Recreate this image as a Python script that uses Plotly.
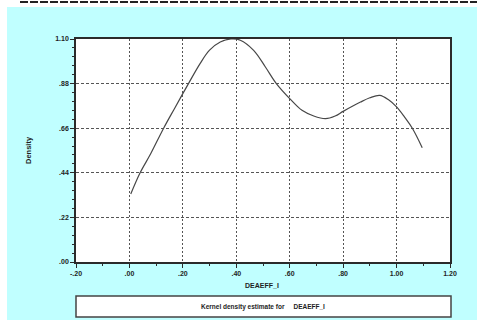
import plotly.graph_objects as go

# Kernel density estimate of DEAEFF_I
deaeff = [0.005, 0.04, 0.08, 0.128, 0.17, 0.221, 0.265, 0.30, 0.34, 0.38,
          0.415, 0.465, 0.509, 0.55, 0.60, 0.646, 0.69, 0.734, 0.77, 0.80,
          0.865, 0.90, 0.937, 0.97, 1.00, 1.03, 1.059, 1.096]
density = [0.335, 0.44, 0.535, 0.66, 0.76, 0.88, 0.98, 1.045, 1.085, 1.10,
           1.094, 1.044, 0.962, 0.88, 0.806, 0.748, 0.72, 0.707, 0.72, 0.743,
           0.789, 0.81, 0.822, 0.80, 0.765, 0.715, 0.66, 0.564]

x_tickvals = [-0.2, 0.0, 0.2, 0.4, 0.6, 0.8, 1.0, 1.2]
x_ticktext = ["-.20", ".00", ".20", ".40", ".60", ".80", "1.00", "1.20"]
y_tickvals = [0.0, 0.22, 0.44, 0.66, 0.88, 1.10]
y_ticktext = [".00", ".22", ".44", ".66", ".88", "1.10"]

W, H = 477, 320
L, R, T, B = 76, 27, 39, 58
PW, PH = W - L - R, H - T - B


def px(x):
    return (x - L) / PW


def py(y):
    return (H - B - y) / PH


def bold(s):
    return f"<b>{s}</b>"


FONT = "Liberation Sans, Arial, sans-serif"
CYAN = "#c0ffff"
INK = "#1e1e1e"

fig = go.Figure()
fig.add_trace(go.Scatter(
    x=deaeff, y=density, mode="lines",
    line=dict(color="#474747", width=1.2, shape="spline", smoothing=1.0),
    hoverinfo="skip", showlegend=False, cliponaxis=True,
))

axis_common = dict(
    showline=True, linecolor="#2b2b2b", linewidth=1.5, mirror=True,
    ticks="outside", ticklen=4, tickwidth=1, tickcolor="#2b2b2b",
    showgrid=True, gridcolor="#555555", gridwidth=1,
    zeroline=False,
    tickfont=dict(family=FONT, size=7, color=INK),
)

fig.update_xaxes(
    range=[-0.2, 1.2], tickmode="array", tickvals=x_tickvals,
    ticktext=[bold(t) for t in x_ticktext],
    griddash="2px,2px",
    minor=dict(dtick=0.1, tick0=0, ticks="outside", ticklen=2, tickcolor="#2b2b2b", showgrid=False),
    **axis_common,
)
fig.update_yaxes(
    range=[0, 1.1], tickmode="array", tickvals=y_tickvals,
    ticktext=[bold(t) for t in y_ticktext],
    griddash="3px,2px",
    minor=dict(dtick=0.044, tick0=0, ticks="outside", ticklen=2, tickcolor="#2b2b2b", showgrid=False),
    **axis_common,
)

shapes = [
    # cyan panel behind the chart
    dict(type="rect", xref="paper", yref="paper", layer="below",
         x0=px(7), x1=px(W + 5), y0=py(H + 5), y1=py(7),
         fillcolor=CYAN, line=dict(width=0)),
    # white plotting area
    dict(type="rect", xref="paper", yref="paper", layer="below",
         x0=0, x1=1, y0=0, y1=1, fillcolor="white", line=dict(width=0)),
    # dashed rule across the top
    dict(type="line", xref="paper", yref="paper",
         x0=px(20), x1=px(W), y0=py(2), y1=py(2),
         line=dict(color="#222222", width=2, dash="8px,2px")),
    # caption box
    dict(type="rect", xref="paper", yref="paper",
         x0=px(76), x1=px(451), y0=py(317), y1=py(296),
         fillcolor="white", line=dict(color="#444444", width=1.5)),
]

annotations = [
    dict(text=bold("Density"), textangle=-90, x=px(28), y=py(150), xref="paper", yref="paper",
         showarrow=False, font=dict(family=FONT, size=7.5, color=INK),
         xanchor="center", yanchor="middle"),
    dict(text=bold("DEAEFF_I"), x=px(262), y=py(285), xref="paper", yref="paper",
         showarrow=False, font=dict(family=FONT, size=7, color=INK),
         xanchor="center", yanchor="middle"),
    dict(text=bold("Kernel density estimate for&nbsp;&nbsp;&nbsp;&nbsp; DEAEFF_I"),
         x=px(263), y=py(306.5), xref="paper", yref="paper",
         showarrow=False, font=dict(family=FONT, size=6.5, color=INK),
         xanchor="center", yanchor="middle"),
]

fig.update_layout(
    width=W, height=H,
    margin=dict(l=L, r=R, t=T, b=B, pad=0),
    paper_bgcolor="white", plot_bgcolor="rgba(0,0,0,0)",
    shapes=shapes, annotations=annotations,
    showlegend=False,
)

fig.write_html("out.html")
